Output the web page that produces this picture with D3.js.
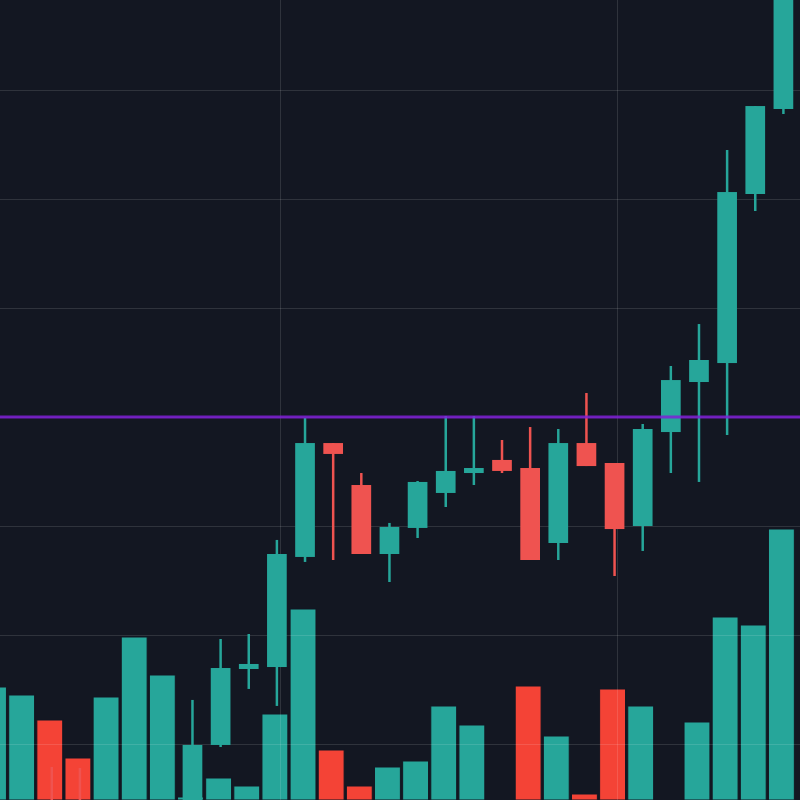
<!DOCTYPE html>
<html>
<head>
<meta charset="utf-8">
<script src="https://cdn.jsdelivr.net/npm/d3@7"></script>
<style>
  body { margin: 0; background: #131722; }
  svg { display: block; }
</style>
</head>
<body>
<div class="chart"></div>
<script>
// candle index (one per bar)
const idx = [0, 1, 2, 3, 4, 5, 6, 7, 8, 9, 10, 11, 12, 13, 14, 15, 16, 17, 18, 19, 20, 21, 22, 23, 24, 25, 26, 27, 28];
const open = [98, 100, 104, 103, 99, 100, 100, 101.19, 109.91, 116.88, 117.06, 127.16, 137.61, 133.76, 127.43, 129.82, 133.03, 134.86, 136.06, 135.32, 128.44, 137.61, 135.78, 130.0, 138.62, 143.21, 144.95, 160.46, 168.26];
const high = [102, 103.5, 107.89, 107.8, 103, 104, 104, 114.04, 119.63, 120.09, 128.72, 139.91, 137.61, 134.86, 130.28, 134.13, 140.09, 140.09, 137.89, 139.08, 138.9, 142.2, 135.78, 139.36, 144.68, 148.53, 164.5, 168.53, 184.68];
const low = [97, 99, 100, 99, 98, 99, 99.5, 100.28, 109.72, 115.05, 113.49, 126.7, 126.88, 127.43, 124.86, 128.9, 131.74, 133.76, 134.86, 126.88, 126.88, 135.5, 125.41, 127.71, 134.86, 134.04, 138.35, 158.9, 167.8];
const close = [101, 103, 101, 100, 102, 103, 102, 109.91, 116.97, 117.34, 127.43, 137.61, 136.61, 127.43, 129.91, 134.04, 135.05, 135.32, 135.05, 126.88, 137.61, 135.5, 129.72, 138.9, 143.39, 145.23, 160.64, 168.53, 183.76];
const volume = [1130, 1050, 800, 420, 1030, 1630, 1250, 30, 220, 140, 860, 1910, 500, 140, 330, 390, 940, 750, 0, 1140, 640, 60, 1110, 940, 0, 780, 1830, 1750, 2710];

const gridPrices = [110, 120, 130, 140, 150, 160, 170];
const gridTimes = [10.1, 22.1];
const levelPrice = 140;

const width = 800;
const height = 800;

const upColor = '#26a69a';
const downColor = '#ef5350';
const volUp = '#26a69a';
const volDown = '#f44336';

const data = idx.map((i) => ({
  i: i,
  open: open[i],
  high: high[i],
  low: low[i],
  close: close[i],
  volume: volume[i],
  up: close[i] >= open[i],
}));

const svg = d3
  .select('.chart')
  .append('svg')
  .attr('width', width)
  .attr('height', height);

svg.append('rect').attr('width', width).attr('height', height).attr('fill', '#131722');

const xScale = d3.scaleLinear().domain([0, 28]).range([-4.5, 783.4]);
const yScale = d3.scaleLinear().domain([104.86, 178.26]).range([height, 0]);
const vScale = d3.scaleLinear().domain([0, 3000]).range([height, 500]);

const step = xScale(1) - xScale(0);
const volWidth = step * 0.92;
const bodyWidth = step * 0.7;

// volume histogram
svg
  .append('g')
  .selectAll('rect')
  .data(data.filter((d) => d.volume > 0))
  .join('rect')
  .attr('x', (d) => xScale(d.i) - 2 - volWidth / 2)
  .attr('y', (d) => vScale(d.volume))
  .attr('width', volWidth)
  .attr('height', (d) => height - vScale(d.volume))
  .attr('fill', (d) => (d.up ? volUp : volDown))
  .attr('stroke', '#131722')
  .attr('stroke-width', 1);

// grid
const grid = svg.append('g').attr('stroke', 'rgba(255,255,255,0.12)').attr('stroke-width', 1);
grid
  .selectAll('.h')
  .data(gridPrices)
  .join('line')
  .attr('class', 'h')
  .attr('x1', 0)
  .attr('x2', width)
  .attr('y1', (d) => Math.round(yScale(d)) + 0.5)
  .attr('y2', (d) => Math.round(yScale(d)) + 0.5);
grid
  .selectAll('.v')
  .data(gridTimes)
  .join('line')
  .attr('class', 'v')
  .attr('y1', 0)
  .attr('y2', height)
  .attr('x1', (d) => Math.round(xScale(d)) + 0.5)
  .attr('x2', (d) => Math.round(xScale(d)) + 0.5);

// candles
const candles = svg.append('g');
candles
  .selectAll('line')
  .data(data)
  .join('line')
  .attr('x1', (d) => xScale(d.i))
  .attr('x2', (d) => xScale(d.i))
  .attr('y1', (d) => yScale(d.high))
  .attr('y2', (d) => yScale(d.low))
  .attr('stroke', (d) => (d.up ? upColor : downColor))
  .attr('stroke-width', 2.5);
candles
  .selectAll('rect')
  .data(data)
  .join('rect')
  .attr('x', (d) => xScale(d.i) - bodyWidth / 2)
  .attr('y', (d) => yScale(Math.max(d.open, d.close)))
  .attr('width', bodyWidth)
  .attr('height', (d) => Math.max(2, Math.abs(yScale(d.open) - yScale(d.close))))
  .attr('fill', (d) => (d.up ? upColor : downColor));

// price level line
svg
  .append('line')
  .attr('x1', 0)
  .attr('x2', width)
  .attr('y1', yScale(levelPrice))
  .attr('y2', yScale(levelPrice))
  .attr('stroke', 'rgb(128,32,215)')
  .attr('stroke-opacity', 0.85)
  .attr('stroke-width', 3);
</script>
</body>
</html>
